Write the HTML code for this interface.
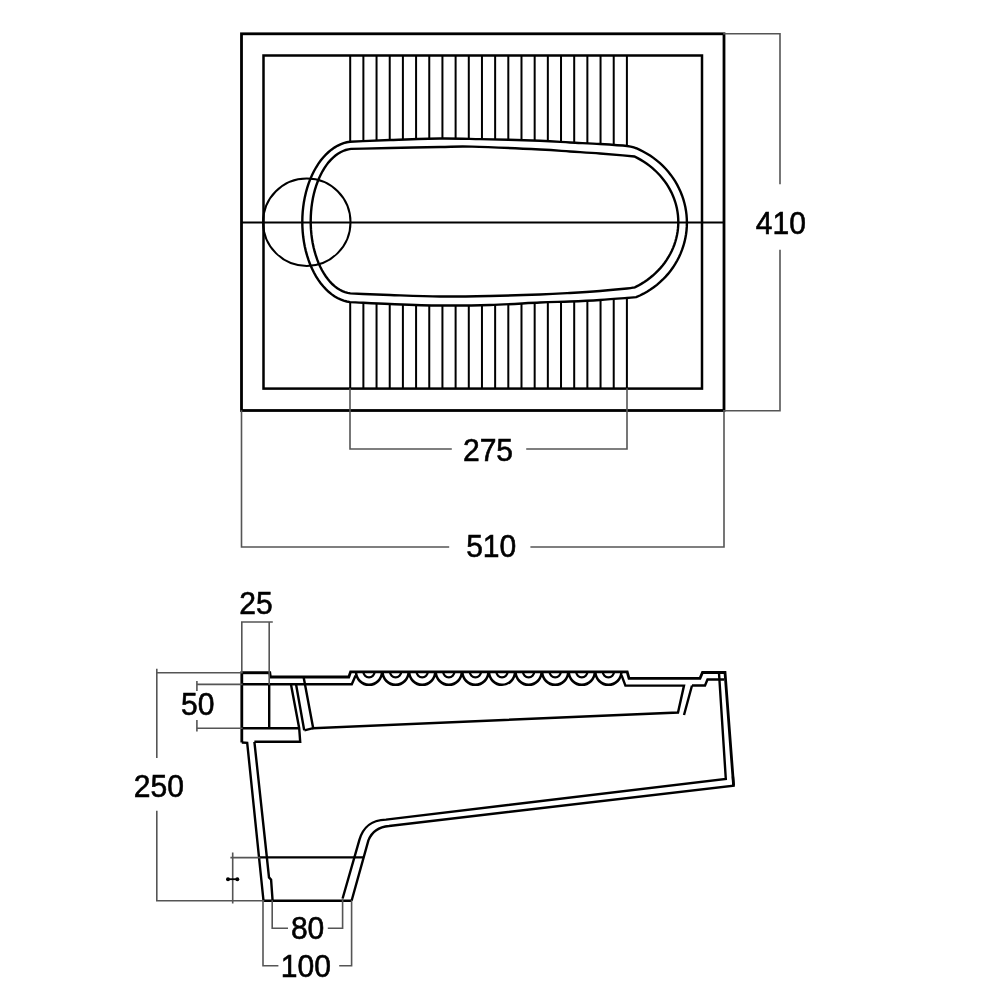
<!DOCTYPE html>
<html><head><meta charset="utf-8"><style>
html,body{margin:0;padding:0;background:#fff;}
svg{display:block;filter:grayscale(100%);}
text{font-family:"Liberation Sans",sans-serif;}
</style></head><body>
<svg width="1000" height="1000" viewBox="0 0 1000 1000">
<rect width="1000" height="1000" fill="#fff"/>
<g fill="none" stroke="#000" stroke-linejoin="miter">
<rect x="241.5" y="33.8" width="482.5" height="376.7" stroke-width="2.8"/>
<rect x="263.5" y="55.5" width="438.5" height="333.1" stroke-width="2.5"/>
<line x1="241.5" y1="222.5" x2="724" y2="222.5" stroke-width="2"/>
<circle cx="306.8" cy="222.2" r="43.7" stroke-width="2"/>
<path stroke-width="2.4" d="M350.00,141.70C363.33,141.13 375.00,140.53 390.00,140.00C405.00,139.47 425.00,138.65 440.00,138.50C455.00,138.35 463.33,138.72 480.00,139.10C496.67,139.48 525.00,140.23 540.00,140.80C555.00,141.37 560.00,141.97 570.00,142.50C580.00,143.03 590.50,143.42 600.00,144.00C609.50,144.58 620.97,145.29 627.00,146.00C633.03,146.71 633.13,147.51 636.20,148.26L639.90,149.90L643.50,151.71L647.02,153.69L650.43,155.83L653.73,158.12L656.91,160.57L659.96,163.17L662.88,165.91L665.66,168.78L668.29,171.77L670.77,174.89L673.08,178.12L675.24,181.46L677.22,184.89L679.03,188.41L680.66,192.02L682.11,195.69L683.37,199.43L684.44,203.22L685.33,207.06L686.01,210.94L686.51,214.85L686.80,218.77L686.90,222.70L686.80,226.63L686.51,230.55L686.01,234.46L685.33,238.34L684.44,242.18L683.37,245.97L682.11,249.71L680.66,253.38L679.03,256.99L677.22,260.51L675.24,263.94L673.08,267.28L670.77,270.51L668.29,273.63L665.66,276.62L662.88,279.49L659.96,282.23L656.91,284.83L653.73,287.28L650.43,289.57L647.02,291.71L643.50,293.69L639.90,295.50L636.20,297.14C633.13,297.43 633.03,297.52 627.00,298.00C620.97,298.48 609.50,299.42 600.00,300.00C590.50,300.58 580.00,301.08 570.00,301.50C560.00,301.92 553.33,301.92 540.00,302.50C526.67,303.08 506.67,304.50 490.00,305.00C473.33,305.50 456.67,305.67 440.00,305.50C423.33,305.33 405.00,304.57 390.00,304.00C375.00,303.43 363.33,302.73 350.00,302.10L346.79,301.52L343.62,300.63L340.48,299.44L337.40,297.96L334.39,296.18L331.45,294.12L328.60,291.79L325.84,289.18L323.20,286.32L320.68,283.22L318.29,279.88L316.03,276.31L313.92,272.54L311.97,268.58L310.18,264.43L308.56,260.13L307.12,255.68L305.85,251.09L304.78,246.40L303.89,241.61L303.20,236.75L302.70,231.83L302.40,226.88L302.30,221.90L302.40,216.92L302.70,211.97L303.20,207.05L303.89,202.19L304.78,197.40L305.85,192.71L307.12,188.12L308.56,183.67L310.18,179.37L311.97,175.22L313.92,171.26L316.03,167.49L318.29,163.92L320.68,160.58L323.20,157.48L325.84,154.62L328.60,152.01L331.45,149.68L334.39,147.62L337.40,145.84L340.48,144.36L343.62,143.17L346.79,142.28L350.00,141.70Z"/>
<path stroke-width="2.4" d="M351.00,148.92C364.00,148.62 375.17,148.32 390.00,148.00C404.83,147.68 426.33,147.23 440.00,147.00C453.67,146.77 455.33,146.18 472.00,146.60C488.67,147.02 523.67,148.68 540.00,149.50C556.33,150.32 560.00,150.83 570.00,151.50C580.00,152.17 589.27,152.68 600.00,153.50C610.73,154.32 622.93,155.46 634.40,156.44L637.65,158.08L640.81,159.86L643.88,161.76L646.85,163.77L649.72,165.91L652.48,168.16L655.12,170.51L657.64,172.97L660.04,175.52L662.30,178.17L664.43,180.91L666.43,183.73L668.27,186.62L669.97,189.59L671.52,192.62L672.92,195.71L674.16,198.85L675.24,202.04L676.16,205.26L676.92,208.52L677.51,211.81L677.94,215.12L678.20,218.44L678.30,221.77L678.23,225.10L677.99,228.42L677.58,231.74L677.01,235.03L676.28,238.29L675.38,241.52L674.32,244.72L673.10,247.87L671.72,250.96L670.19,254.00L668.51,256.98L666.69,259.88L664.72,262.71L662.60,265.46L660.36,268.12L657.98,270.69L655.47,273.16L652.85,275.53L650.11,277.79L647.25,279.94L644.29,281.97L641.24,283.89L638.09,285.68L634.85,287.35C632.23,287.73 632.81,287.89 627.00,288.50C621.19,289.11 609.50,290.25 600.00,291.00C590.50,291.75 580.00,292.42 570.00,293.00C560.00,293.58 553.33,294.00 540.00,294.50C526.67,295.00 506.67,295.67 490.00,296.00C473.33,296.33 456.67,296.67 440.00,296.50C423.33,296.33 404.95,295.52 390.00,295.00C375.05,294.48 363.53,293.93 350.30,293.40L347.63,292.92L344.99,292.15L342.38,291.11L339.81,289.80L337.30,288.21L334.85,286.36L332.47,284.26L330.18,281.91L327.98,279.32L325.88,276.50L323.88,273.47L322.01,270.23L320.25,266.79L318.63,263.18L317.14,259.40L315.80,255.48L314.61,251.42L313.56,247.24L312.68,242.95L311.95,238.59L311.39,234.15L310.99,229.66L310.76,225.14L310.70,220.61L310.81,216.07L311.08,211.56L311.52,207.08L312.13,202.67L312.89,198.32L313.82,194.06L314.90,189.91L316.14,185.88L317.52,181.99L319.04,178.26L320.70,174.69L322.49,171.31L324.39,168.12L326.42,165.14L328.54,162.38L330.77,159.85L333.09,157.56L335.48,155.53L337.95,153.75L340.48,152.23L343.06,150.99L345.68,150.02L348.33,149.33L351.00,148.92Z"/>
</g>
<path fill="none" stroke="#000" stroke-width="2" d="M350.20,55.5V141.49M350.20,302.51V388.6M363.38,55.5V141.00M363.38,303.00V388.6M376.55,55.5V140.50M376.55,303.50V388.6M389.73,55.5V140.01M389.73,303.99V388.6M402.90,55.5V139.61M402.90,304.39V388.6M416.08,55.5V139.22M416.08,304.78V388.6M429.26,55.5V138.82M429.26,305.18V388.6M442.43,55.5V138.54M442.43,305.48V388.6M455.61,55.5V138.73M455.61,305.34V388.6M468.79,55.5V138.93M468.79,305.21V388.6M481.96,55.5V139.16M481.96,305.08V388.6M495.14,55.5V139.53M495.14,304.74V388.6M508.31,55.5V139.90M508.31,304.08V388.6M521.49,55.5V140.28M521.49,303.43V388.6M534.67,55.5V140.65M534.67,302.77V388.6M547.84,55.5V141.24M547.84,302.24V388.6M561.02,55.5V141.99M561.02,301.80V388.6M574.20,55.5V142.71M574.20,301.29V388.6M587.37,55.5V143.37M587.37,300.63V388.6M600.55,55.5V144.04M600.55,299.96V388.6M613.72,55.5V145.02M613.72,298.98V388.6M626.90,55.5V145.99M626.90,298.01V388.6"/>
<g fill="none" stroke="#555" stroke-width="1.6" stroke-linecap="square">
<path d="M724,33.8H780V183.5M780,250.5V410.8H724"/>
<path d="M350,389V449H451M527,449H627V389"/>
<path d="M241.5,411V547H448.4M531.2,547H724V411"/>
</g>
<g fill="none" stroke="#000" stroke-width="2.4" stroke-linejoin="miter" stroke-linecap="butt">
<path stroke-width="2.8" d="M241.8,742.5V672.6H269.8L270.4,677H348.8L350.6,671.8H627.2L629,678.4H700L702.5,672.5H725L733.6,785.6"/>
<path d="M732.9,776.5L733.6,785.6L389,826 C376,827 371,834 368.4,840.4 L351.6,900.75"/>
<path stroke-width="1.2" d="M242,673.6H269.5"/>
<path d="M263.5,900.75H352"/>
<path d="M241.8,742.5L247.2,742.8L263.5,900.75"/>
<path d="M241.8,684.2H351.8L355.6,675.4"/>
<path stroke-width="2.5" d="M356.00,671.8A13.0,13.0 0 0 0 382.00,671.8M382.60,671.8A13.0,13.0 0 0 0 408.60,671.8M409.20,671.8A13.0,13.0 0 0 0 435.20,671.8M435.80,671.8A13.0,13.0 0 0 0 461.80,671.8M462.40,671.8A13.0,13.0 0 0 0 488.40,671.8M489.00,671.8A13.0,13.0 0 0 0 515.00,671.8M515.60,671.8A13.0,13.0 0 0 0 541.60,671.8M542.20,671.8A13.0,13.0 0 0 0 568.20,671.8M568.80,671.8A13.0,13.0 0 0 0 594.80,671.8M595.40,671.8A13.0,13.0 0 0 0 621.40,671.8"/>
<path stroke-width="2.3" d="M363.40,671.8A5.6,5.6 0 0 0 374.60,671.8M390.00,671.8A5.6,5.6 0 0 0 401.20,671.8M416.60,671.8A5.6,5.6 0 0 0 427.80,671.8M443.20,671.8A5.6,5.6 0 0 0 454.40,671.8M469.80,671.8A5.6,5.6 0 0 0 481.00,671.8M496.40,671.8A5.6,5.6 0 0 0 507.60,671.8M523.00,671.8A5.6,5.6 0 0 0 534.20,671.8M549.60,671.8A5.6,5.6 0 0 0 560.80,671.8M576.20,671.8A5.6,5.6 0 0 0 587.40,671.8M602.80,671.8A5.6,5.6 0 0 0 614.00,671.8"/>
<path d="M621.6,675.4L625.4,685.6H684L678,712.5L313.2,728.2L303.6,677"/>
<path d="M304.4,730.4L313.2,728.2M295.9,683.5L304.2,730.2M290.8,683.5L299.2,728.2L300.2,741.8H254.4"/>
<path d="M241.8,728.2H299.2M269.2,684.2V728.2"/>
<path d="M254.4,741.8L265,840L269,877.4L271.1,879.8L272.6,900.8"/>
<path d="M692,685.5H705L707.5,679.5H724M692,685.5L684,715"/>
<path d="M719,673L725.8,779L386,819.6 C370,820 363,828 359.4,839.8 L342.6,898.5"/>
<path stroke-width="2.2" d="M259.5,857.4H363"/>
</g>
<g fill="none" stroke="#555" stroke-width="1.6" stroke-linecap="square">
<path d="M241.8,672V622H272M269.2,622V684"/>
<path d="M156.8,672.8H241.8M156.8,669.5V757.2M156.8,811.6V900.75H263.5"/>
<path d="M196.9,684.4H241.8M196.9,681.9V690.3M196.9,728.2H241.8M196.9,720.8V730.6"/>
<path d="M232.7,853.4V902.6M231.2,857.6H259.5"/>
<path d="M272.2,901V928.2H287.2M328.6,928.2H342.6V899"/>
<path d="M263,901V965.8H277.6M340,965.8H351.6V901"/>
</g>
<path stroke="#000" stroke-width="1.8" d="M228,879.2H237.5"/><circle cx="228" cy="879.2" r="2" fill="#000"/><circle cx="237.3" cy="879.2" r="2" fill="#000"/>
<g font-family="Liberation Sans, sans-serif" font-size="31" fill="#000" stroke="#000" stroke-width="0.6" text-anchor="middle">
<text transform="translate(488,460.9) scale(0.97,1)">275</text>
<text transform="translate(491.2,557.1999999999999) scale(0.97,1)">510</text>
<text transform="translate(780.9,233.9) scale(0.97,1)">410</text>
<text transform="translate(256,614.4) scale(0.97,1)">25</text>
<text transform="translate(197.7,715.0) scale(0.97,1)">50</text>
<text transform="translate(158.8,797.4) scale(0.97,1)">250</text>
<text transform="translate(307.6,939.0) scale(0.97,1)">80</text>
<text transform="translate(305.8,976.8) scale(0.97,1)">100</text>
</g>
</svg>
</body></html>
